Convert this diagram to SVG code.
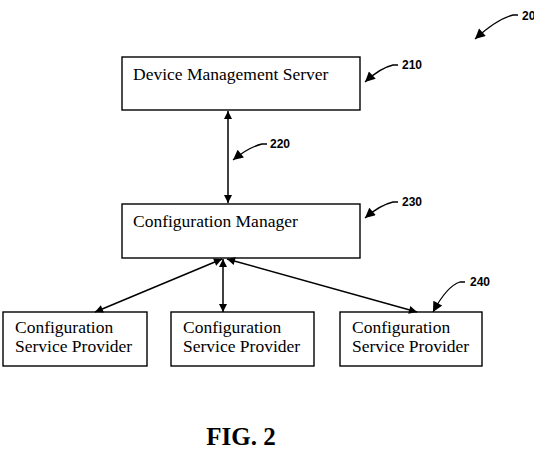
<svg xmlns="http://www.w3.org/2000/svg" width="534" height="474" viewBox="0 0 534 474">
<defs>
<marker id="ah" viewBox="0 0 10 10" refX="10" refY="5" markerWidth="10" markerHeight="8" markerUnits="userSpaceOnUse" orient="auto-start-reverse">
<path d="M0,0 L10,5 L0,10 Z" fill="#000"/>
</marker>
<marker id="lh" viewBox="0 0 10 10" refX="10" refY="5" markerWidth="12" markerHeight="10" markerUnits="userSpaceOnUse" orient="auto">
<path d="M0,0 L10,5 L0,10 Z" fill="#000"/>
</marker>
</defs>
<style>
.box{fill:#fff;stroke:#000;stroke-width:1.4}
.t{font-family:"Liberation Serif","Times New Roman",serif;font-size:17.5px;fill:#000}
.lbl{font-family:"Liberation Sans",Arial,sans-serif;font-size:12px;font-weight:bold;fill:#000}
.c{fill:none;stroke:#000;stroke-width:1.5}
.ld{fill:none;stroke:#000;stroke-width:1.3}
</style>
<rect width="534" height="474" fill="#fff"/>
<g id="n210">
<rect class="box" x="122" y="57" width="238" height="53"/>
<text class="t" x="133" y="80">Device Management Server</text>
</g>
<g id="n230">
<rect class="box" x="122" y="204" width="238" height="54"/>
<text class="t" x="133" y="227">Configuration Manager</text>
</g>
<g id="n240a">
<rect class="box" x="3" y="312" width="144" height="54"/>
<text class="t" x="15" y="333">Configuration</text>
<text class="t" x="15" y="352">Service Provider</text>
</g>
<g id="n240b">
<rect class="box" x="171" y="312" width="143" height="54"/>
<text class="t" x="183" y="333">Configuration</text>
<text class="t" x="183" y="352">Service Provider</text>
</g>
<g id="n240c">
<rect class="box" x="340" y="312" width="142" height="54"/>
<text class="t" x="352" y="333">Configuration</text>
<text class="t" x="352" y="352">Service Provider</text>
</g>
<g id="connectors">
<line class="c" x1="228" y1="111" x2="228" y2="203" marker-start="url(#ah)" marker-end="url(#ah)"/>
<line class="c" x1="222" y1="259" x2="95" y2="312" marker-start="url(#ah)" marker-end="url(#ah)"/>
<line class="c" x1="223" y1="259" x2="223" y2="312" marker-start="url(#ah)" marker-end="url(#ah)"/>
<line class="c" x1="227" y1="259" x2="417" y2="312" marker-start="url(#ah)" marker-end="url(#ah)"/>
</g>
<g id="labels">
<path class="ld" d="M518,15 L513,15 Q497,19 475,39" marker-end="url(#lh)"/>
<text class="lbl" x="522" y="20">20</text>
<path class="ld" d="M398,65 L393,65 Q380,68 365,82" marker-end="url(#lh)"/>
<text class="lbl" x="402" y="69">210</text>
<path class="ld" d="M267,144 L262,144 Q249,147 233,160" marker-end="url(#lh)"/>
<text class="lbl" x="270" y="148">220</text>
<path class="ld" d="M398,202 L393,202 Q380,205 365,218" marker-end="url(#lh)"/>
<text class="lbl" x="402" y="206">230</text>
<path class="ld" d="M465,282 L460,282 Q447,286 433,312" marker-end="url(#lh)"/>
<text class="lbl" x="470" y="286">240</text>
</g>
<text x="241" y="445" text-anchor="middle" font-family="'Liberation Serif','Times New Roman',serif" font-size="25" font-weight="bold">FIG. 2</text>
</svg>
